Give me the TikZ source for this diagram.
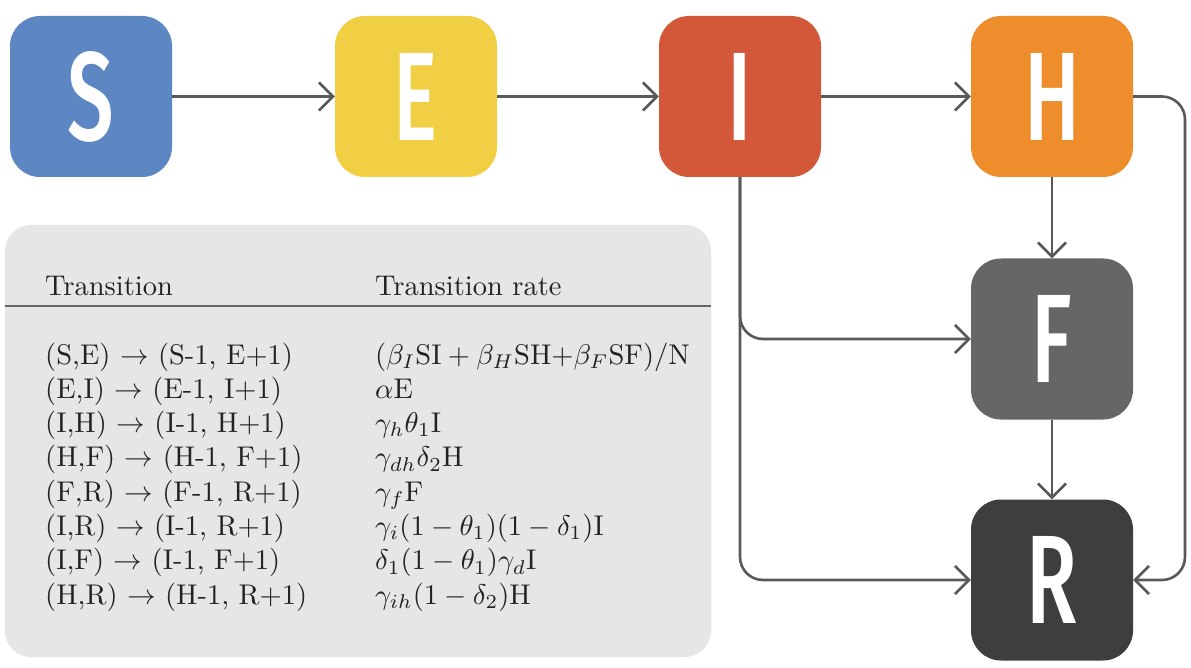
\documentclass[tikz,border=0pt]{standalone}
\usepackage{fontspec}
\usepackage{graphicx}
\usetikzlibrary{arrows.meta}
\IfFontExistsTF{Fira Sans Medium}{\newfontfamily\letterfont{Fira Sans Medium}}{\newfontfamily\letterfont{Fira Sans}}
\definecolor{sblue}{HTML}{5C87C3}
\definecolor{eyellow}{HTML}{F1CF45}
\definecolor{ired}{HTML}{D3583A}
\definecolor{horange}{HTML}{EE8D2B}
\definecolor{fgray}{HTML}{666666}
\definecolor{rdark}{HTML}{3E3E3E}
\definecolor{panelgray}{HTML}{E6E6E6}
\definecolor{linegray}{HTML}{595959}
\definecolor{textdark}{HTML}{222222}
\tikzset{
  statebox/.style={rectangle, rounded corners=30pt, minimum width=162pt, minimum height=161pt,
    inner sep=0pt, text=white, font=\letterfont\fontsize{126}{126}\selectfont},
  flow/.style={draw=linegray, line width=2.6pt, -{Straight Barb[length=14pt,width=28pt]}},
  panelbox/.style={rectangle, rounded corners=26pt, fill=panelgray, minimum width=706pt,
    minimum height=432pt, inner sep=0pt},
  cell/.style={anchor=base west, inner sep=0pt, text=textdark},
}
\newcommand{\bigletter}[1]{\scalebox{0.66}[1]{#1}}
\newcommand{\tx}[1]{\scalebox{2.85}{#1}}
\begin{document}
\begin{tikzpicture}[x=1pt,y=-1pt]
\useasboundingbox[fill=white] (0,0) rectangle (1191,668);
% panel
\node[panelbox] (tbl) at (358,441) {};
\draw[draw=fgray, line width=1.8pt] (5,306) -- (711,306);
% header
\node[cell] (hA) at (45,295) {\tx{Transition}};
\node[cell] (hB) at (375,295) {\tx{Transition rate}};
% rows
\node[cell] (a1) at (45,364) {\tx{(S,E) $\rightarrow$ (S-1, E+1)}};
\node[cell] (a2) at (45,398.3) {\tx{(E,I) $\rightarrow$ (E-1, I+1)}};
\node[cell] (a3) at (45,432.6) {\tx{(I,H) $\rightarrow$ (I-1, H+1)}};
\node[cell] (a4) at (45,466.9) {\tx{(H,F) $\rightarrow$ (H-1, F+1)}};
\node[cell] (a5) at (45,501.2) {\tx{(F,R) $\rightarrow$ (F-1, R+1)}};
\node[cell] (a6) at (45,535.5) {\tx{(I,R) $\rightarrow$ (I-1, R+1)}};
\node[cell] (a7) at (45,569.8) {\tx{(I,F) $\rightarrow$ (I-1, F+1)}};
\node[cell] (a8) at (45,604.1) {\tx{(H,R) $\rightarrow$ (H-1, R+1)}};
\node[cell] (b1) at (375,364) {\tx{$(\beta_I\mathrm{SI} + \beta_H\mathrm{SH}{+}\beta_F\mathrm{SF})/\mathrm{N}$}};
\node[cell] (b2) at (375,398.3) {\tx{$\alpha$E}};
\node[cell] (b3) at (375,432.6) {\tx{$\gamma_h\theta_1$I}};
\node[cell] (b4) at (375,466.9) {\tx{$\gamma_{dh}\delta_2$H}};
\node[cell] (b5) at (375,501.2) {\tx{$\gamma_f$F}};
\node[cell] (b6) at (375,535.5) {\tx{$\gamma_i(1-\theta_1)(1-\delta_1)$I}};
\node[cell] (b7) at (375,569.8) {\tx{$\delta_1(1-\theta_1)\gamma_d$I}};
\node[cell] (b8) at (375,604.1) {\tx{$\gamma_{ih}(1-\delta_2)$H}};
% states
\node[statebox, fill=sblue] (S) at (91,96.5) {\bigletter{S}};
\node[statebox, fill=eyellow] (E) at (416,96.5) {\bigletter{E}};
\node[statebox, fill=ired] (I) at (740,96.5) {\bigletter{I}};
\node[statebox, fill=horange] (H) at (1052,96.5) {\bigletter{H}};
\node[statebox, fill=fgray] (F) at (1052,339) {\bigletter{F}};
\node[statebox, fill=rdark] (R) at (1052,580) {\bigletter{R}};
\coordinate (hr) at (1185,96.5);
% connectors
\draw[flow] (S) -- (E);
\draw[flow] (E) -- (I);
\draw[flow] (I) -- (H);
\draw[flow] (H) -- (F);
\draw[flow] (F) -- (R);
\draw[flow, rounded corners=23pt] (I.south) |- (F.west);
\draw[flow, rounded corners=23pt] (I.south) |- (R.west);
\draw[flow, rounded corners=23pt] (H.east) -- (hr) |- (R.east);
\end{tikzpicture}
\end{document}
